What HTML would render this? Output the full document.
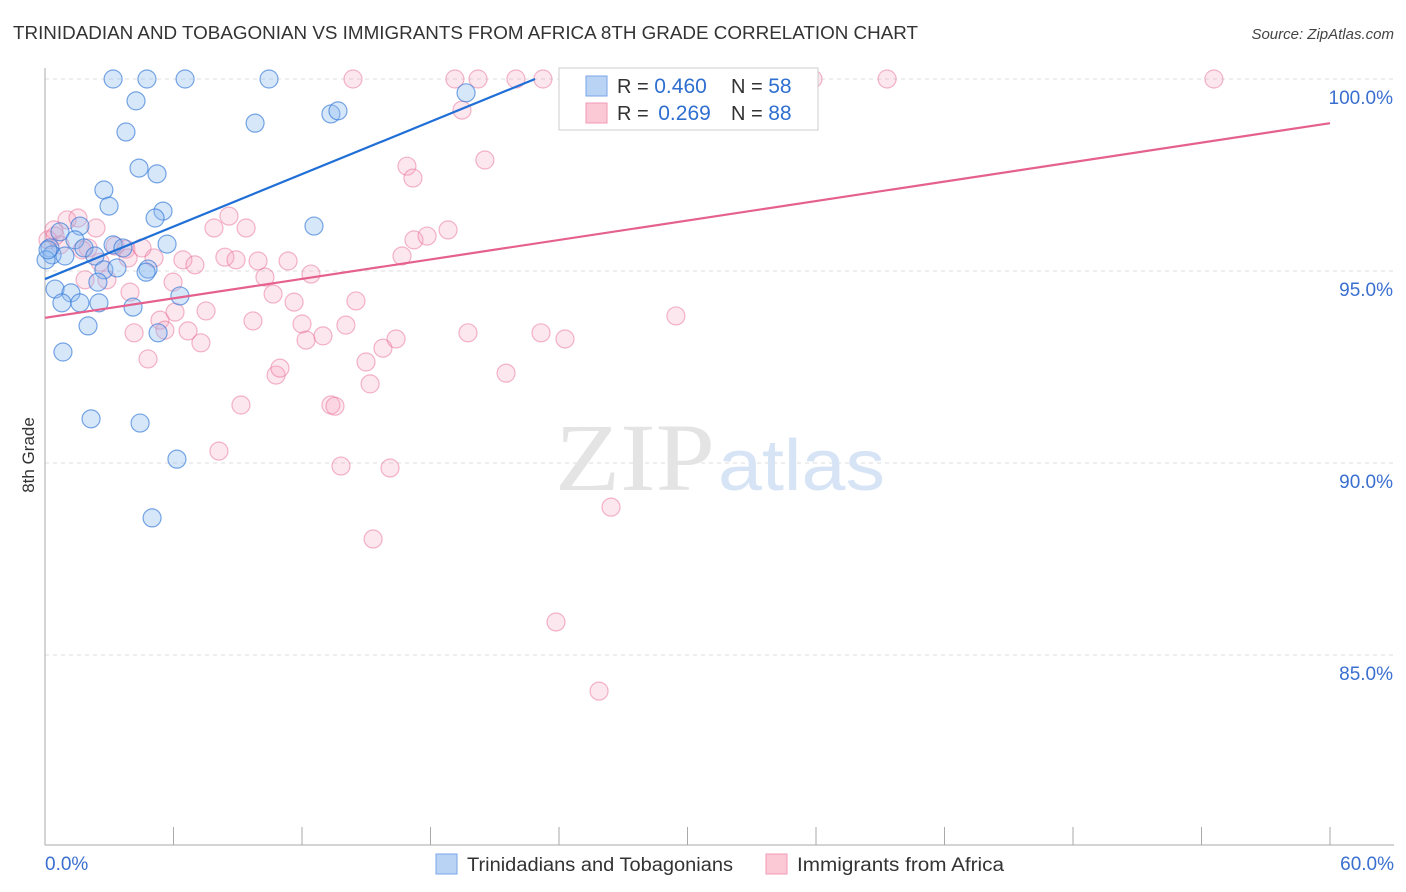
<!DOCTYPE html>
<html><head><meta charset="utf-8"><style>
body{margin:0;background:#fff;font-family:"Liberation Sans",sans-serif}
svg{display:block}
</style></head><body>
<svg id="chart" width="1406" height="892">
<text x="13" y="39" font-size="18" fill="#333" textLength="905" lengthAdjust="spacingAndGlyphs">TRINIDADIAN AND TOBAGONIAN VS IMMIGRANTS FROM AFRICA 8TH GRADE CORRELATION CHART</text>
<text x="1394" y="39" font-size="15" fill="#444" text-anchor="end" font-style="italic">Source: ZipAtlas.com</text>
<text x="34" y="455" font-size="17" fill="#333" transform="rotate(-90 34 455)" text-anchor="middle">8th Grade</text>
<g id="grid"></g>
<text x="555" y="490" font-size="96" fill="#e4e4e4" font-family="Liberation Serif,serif" textLength="160" lengthAdjust="spacingAndGlyphs">ZIP</text>
<text x="718" y="490" font-size="72" fill="#d6e4f5" textLength="167" lengthAdjust="spacingAndGlyphs">atlas</text>
<g id="pts"></g>
<g id="lines"></g>
<g>
<rect x="559" y="68" width="259" height="62" fill="#fff" stroke="#ccc"/>
<rect x="586" y="76" width="21" height="20" fill="#b9d3f5" stroke="#7aa6e8"/>
<rect x="586" y="103" width="21" height="20" fill="#fbc8d6" stroke="#f09ab4"/>
<text x="617" y="93" font-size="20" fill="#333">R = <tspan fill="#2f6fd0" font-size="21">0.460</tspan></text>
<text x="731" y="93" font-size="20" fill="#333">N = <tspan fill="#2f6fd0" font-size="21">58</tspan></text>
<text x="617" y="120" font-size="20" fill="#333">R = <tspan fill="#2f6fd0" dx="4" font-size="21">0.269</tspan></text>
<text x="731" y="120" font-size="20" fill="#333">N = <tspan fill="#2f6fd0" font-size="21">88</tspan></text>
</g>
<g>
<rect x="436" y="854" width="21" height="20" fill="#b9d3f5" stroke="#7aa6e8"/>
<text x="467" y="871" font-size="19" fill="#333" textLength="266" lengthAdjust="spacingAndGlyphs">Trinidadians and Tobagonians</text>
<rect x="766" y="854" width="21" height="20" fill="#fbc8d6" stroke="#f09ab4"/>
<text x="797" y="871" font-size="19" fill="#333" textLength="207" lengthAdjust="spacingAndGlyphs">Immigrants from Africa</text>
</g>
</svg>
<script>
const yTicks=[100,95,90,85];
const yTickLabels=["100.0%","95.0%","90.0%","85.0%"];
const xEnds=["0.0%","60.0%"];
const bluePx=[[113,79],[147,79],[185,79],[269,79],[650,79],[136,101],[126,132],[255,123],[331,114],[338,111],[466,93],[139,168],[157,174],[104,190],[109,206],[163,211],[155,218],[314,226],[80,226],[60,232],[50,248],[52,255],[75,240],[84,248],[65,256],[95,256],[113,245],[123,248],[167,244],[104,270],[117,268],[148,269],[146,272],[98,282],[55,289],[71,293],[62,303],[80,303],[99,303],[133,307],[180,296],[88,326],[158,333],[63,352],[91,419],[140,423],[177,459],[152,518],[46,260],[48,250]];
const pinkPx=[[67,220],[78,218],[96,228],[48,240],[60,245],[88,248],[115,246],[126,249],[100,262],[128,258],[154,258],[142,248],[85,280],[107,280],[130,292],[173,282],[183,260],[195,265],[229,216],[214,228],[246,228],[225,257],[236,260],[258,261],[288,261],[265,277],[311,274],[160,320],[175,312],[165,330],[188,331],[201,343],[206,311],[253,321],[273,294],[294,302],[302,324],[306,340],[323,336],[346,325],[356,301],[366,362],[370,384],[383,348],[396,339],[276,375],[280,368],[241,405],[219,451],[331,405],[335,406],[341,466],[390,468],[373,539],[407,166],[413,178],[414,240],[427,236],[448,230],[402,256],[462,110],[485,160],[468,333],[506,373],[541,333],[565,339],[676,316],[611,507],[556,622],[599,691],[148,359],[353,79],[455,79],[478,79],[516,79],[543,79],[575,79],[610,79],[750,79],[778,79],[813,79],[887,79],[1214,79],[572,112],[134,333],[82,250],[54,230],[55,236]];
const blueX=bluePx.map(p=>+((p[0]-45)/1285*60).toFixed(2));
const blueY=bluePx.map(p=>+(100-(p[1]-79)/38.4).toFixed(2));
const pinkX=pinkPx.map(p=>+((p[0]-45)/1285*60).toFixed(2));
const pinkY=pinkPx.map(p=>+(100-(p[1]-79)/38.4).toFixed(2));
const blueTrend=[[0,94.79],[22.88,100]];
const pinkTrend=[[0,93.78],[60,98.85]];

const X=v=>45+v/60*1285, Y=v=>79+(100-v)*38.4;
const NS="http://www.w3.org/2000/svg";
function mk(t,a,p){const e=document.createElementNS(NS,t);for(const k in a)e.setAttribute(k,a[k]);p.appendChild(e);return e;}
const grid=document.getElementById('grid');
yTicks.forEach((t,i)=>{
 const l=mk('line',{x1:45,x2:1394,y1:Y(t),y2:Y(t),stroke:'#ddd','stroke-dasharray':'4,4'},grid);
 
 
 const tx=mk('text',{x:1393,y:Y(t)+25,'font-size':19,fill:'#3a6fd0','text-anchor':'end'},grid);tx.textContent=yTickLabels[i];
 
 
});
const ax=mk('line',{x1:45,x2:45,y1:68,y2:845,stroke:'#aaa'},grid);


const bx=mk('line',{x1:45,x2:1394,y1:845,y2:845,stroke:'#aaa'},grid);


for(let i=0;i<=10;i++){const tk=mk('line',{x1:X(i*6),x2:X(i*6),y1:827,y2:845,stroke:'#aaa'},grid);
 
 }
const xl=mk('text',{x:45,y:870,'font-size':19,fill:'#3a6fd0'},grid);xl.textContent=xEnds[0];


const xr=mk('text',{x:1394,y:870,'font-size':19,fill:'#3a6fd0','text-anchor':'end'},grid);xr.textContent=xEnds[1];


const pts=document.getElementById('pts');
pinkX.forEach((x,i)=>{const c=mk('circle',{cx:X(x),cy:Y(pinkY[i]),r:9,fill:'rgba(246,160,186,0.25)',stroke:'rgba(232,110,150,0.5)','stroke-width':1.2},pts);
 
 });
blueX.forEach((x,i)=>{const c=mk('circle',{cx:X(x),cy:Y(blueY[i]),r:9,fill:'rgba(140,185,240,0.35)',stroke:'rgba(50,120,215,0.65)','stroke-width':1.2},pts);
 
 });
const lines=document.getElementById('lines');
const lb=mk('line',{x1:X(blueTrend[0][0]),y1:Y(blueTrend[0][1]),x2:X(blueTrend[1][0]),y2:Y(blueTrend[1][1]),stroke:'#1f6fd6','stroke-width':2.2},lines);


const lp=mk('line',{x1:X(pinkTrend[0][0]),y1:Y(pinkTrend[0][1]),x2:X(pinkTrend[1][0]),y2:Y(pinkTrend[1][1]),stroke:'#e5608e','stroke-width':2.2},lines);


</script>
</body></html>
